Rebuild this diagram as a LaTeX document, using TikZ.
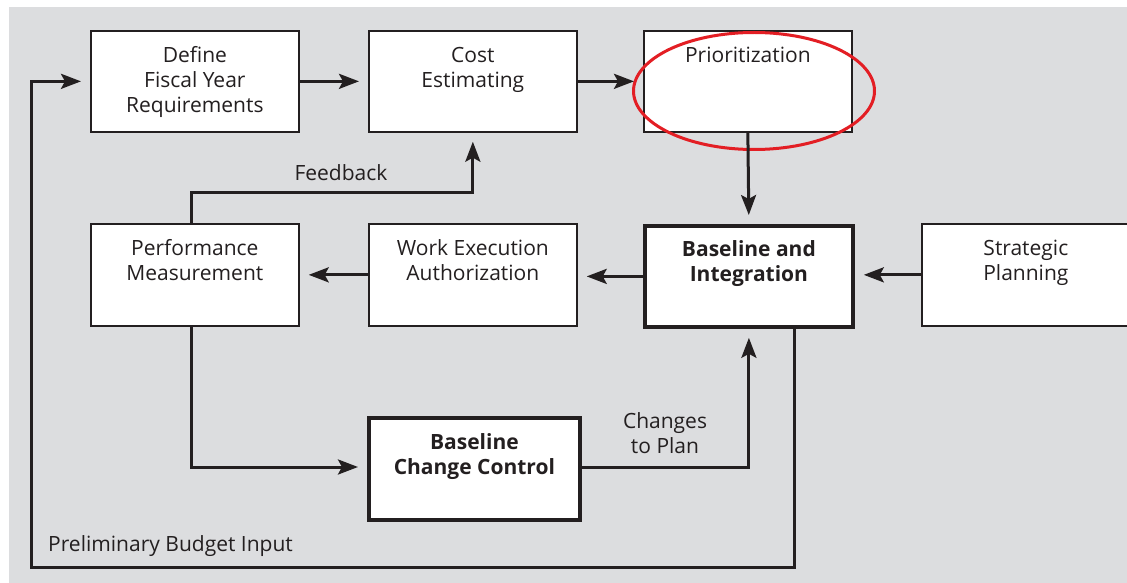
\documentclass[tikz,border=0pt]{standalone}
\usepackage{fontspec}
\setmainfont{Open Sans}
\usetikzlibrary{arrows.meta,shapes.geometric}

\definecolor{panel}{HTML}{DCDDDF}
\definecolor{ink}{HTML}{231F20}
\definecolor{ring}{HTML}{E31E24}

% box content: fixed-size parbox, first baseline a set distance below the top edge
\newcommand\boxtext[4]{\parbox[c][#2pt][t]{#1pt}{\centering\rule{0pt}{#3pt}#4}}

\begin{document}
\begin{tikzpicture}[x=1pt,y=-1pt,
  font=\fontsize{21}{25}\selectfont,
  box/.style={draw=ink, fill=white, line width=1.7pt, inner sep=0pt, anchor=north west, text=ink},
  keybox/.style={box, line width=3.8pt, font=\fontsize{21}{25}\selectfont\bfseries},
  arr/.style={draw=ink, line width=3pt, -{Stealth[length=20pt,width=15pt,inset=4pt]}, shorten >=9pt},
  lbl/.style={text=ink, inner sep=0pt}
]
\useasboundingbox (0,0) rectangle (1127,583);
\fill[panel] (9,7) rectangle (1127,583);

% first row
\node[box] (define) at (90,30)  {\boxtext{208}{101}{32}{Define\\Fiscal Year\\Requirements}};
\node[box] (cost)   at (368,30) {\boxtext{208}{101}{32}{Cost\\Estimating}};
\node[box] (prio)   at (643,30) {\boxtext{208}{101}{32}{Prioritization}};

% second row
\node[box]    (perf)  at (90,223)  {\boxtext{208}{102}{32}{Performance\\Measurement}};
\node[box]    (work)  at (368,223) {\boxtext{208}{102}{32}{Work Execution\\Authorization}};
\node[keybox] (base)  at (643,224) {\boxtext{208}{101}{31}{Baseline and\\Integration}};
\node[box]    (strat) at (921,223) {\boxtext{208}{102}{32}{Strategic\\Planning}};

% third row
\node[keybox] (chg) at (367,416) {\boxtext{211}{102}{32}{Baseline\\Change Control}};

% highlight ring
\node[ellipse, draw=ring, line width=3pt, minimum width=241pt, minimum height=117pt, inner sep=0pt] (ring) at (754,91) {};

% connectors
\draw[arr] (define.east) -- (cost.west);
\draw[arr] (cost.east) -- (prio.west);
\draw[arr] (prio.south) -- (base.north);
\draw[arr] (strat.west) -- (strat.west -| base.east);
\draw[arr] (base.west) -- (base.west -| work.east);
\draw[arr] (work.west) -- (perf.east);

\coordinate (fb) at (191,192);
\draw[arr] (perf.north -| fb) -- (fb) -| (cost.south);
\node[lbl, anchor=base] (fbtext) at (341,180) {Feedback};

\coordinate (pm) at (191,467);
\draw[arr] (perf.south -| pm) -- (pm) -- (pm -| chg.west);
\draw[arr] (chg.east |- pm) -| (base.south);
\node[lbl, align=center, anchor=base] (chtext) at (665,453) {Changes\\to Plan};

\coordinate (pbr) at (794,567);
\coordinate (pbl) at (31,567);
\draw[arr] (base.south -| pbr) -- (pbr) -- (pbl) |- (define.west);
\node[lbl, anchor=base west] (pbtext) at (48,551) {Preliminary Budget Input};
\end{tikzpicture}
\end{document}
